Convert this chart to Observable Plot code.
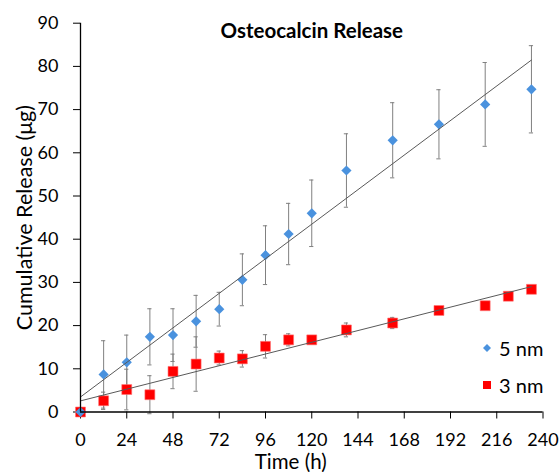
<!DOCTYPE html>
<html>
<head>
<meta charset="utf-8">
<script src="https://cdn.jsdelivr.net/npm/d3@7"></script>
<script src="https://cdn.jsdelivr.net/npm/@observablehq/plot@0.6"></script>
<style>
  html, body { margin: 0; padding: 0; background: #fff; }
  #wrap { position: relative; width: 560px; height: 472px; font-family: Lato, "Open Sans", sans-serif; }
  .leg { position: absolute; display: flex; align-items: center; font-size: 20px; color: #000; }
  .leg svg { margin-right: 6px; }
</style>
</head>
<body>
<div id="wrap"></div>
<script>
const title = "Osteocalcin Release";
const xLabel = "Time (h)";
const yLabel = "Cumulative Release (μg)";
const xTicks = [0, 24, 48, 72, 96, 120, 144, 168, 192, 216, 240];
const yTicks = [0, 10, 20, 30, 40, 50, 60, 70, 80, 90];

const seriesNames = ["5 nm", "3 nm"];
const seriesColors = ["#4a92de", "#ff0000"];

const hours5 = [0, 12, 24, 36, 48, 60, 72, 84, 96, 108, 120, 138, 162, 186, 210, 234];
const release5 = [0, 8.7, 11.5, 17.4, 17.8, 21.0, 23.8, 30.6, 36.3, 41.2, 46.0, 55.9, 62.9, 66.6, 71.2, 74.7];
const err5 = [0, 7.8, 6.3, 6.5, 6.1, 6.0, 3.9, 6.0, 6.8, 7.1, 7.7, 8.5, 8.7, 8.0, 9.7, 10.1];

const hours3 = [0, 12, 24, 36, 48, 60, 72, 84, 96, 108, 120, 138, 162, 186, 210, 222, 234];
const release3 = [0, 2.6, 5.2, 4.0, 9.4, 11.1, 12.5, 12.3, 15.2, 16.7, 16.7, 19.0, 20.6, 23.5, 24.6, 26.8, 28.4];
const err3 = [0, 2.0, 4.7, 4.4, 4.0, 6.3, 1.6, 1.9, 2.7, 1.4, 0.5, 1.6, 1.3, 0.4, 0.3, 0.3, 0.5];

const s5 = hours5.map((t, i) => ({t, v: release5[i], e: err5[i]}));
const s3 = hours3.map((t, i) => ({t, v: release3[i], e: err3[i]}));
const withErr = (arr) => arr.filter(d => d.e > 0);

const errColor = "#808080";
const capHalf = 1.1;

function errorMarks(data) {
  const d = withErr(data);
  return [
    Plot.ruleX(d, {x: "t", y1: r => r.v - r.e, y2: r => r.v + r.e, stroke: errColor, strokeWidth: 1}),
    Plot.ruleY(d, {y: r => r.v + r.e, x1: r => r.t - capHalf, x2: r => r.t + capHalf, stroke: errColor, strokeWidth: 1}),
    Plot.ruleY(d, {y: r => r.v - r.e, x1: r => r.t - capHalf, x2: r => r.t + capHalf, stroke: errColor, strokeWidth: 1})
  ];
}

const chart = Plot.plot({
  width: 560,
  height: 472,
  marginLeft: 80,
  marginRight: 17.5,
  marginTop: 22.7,
  marginBottom: 60.5,
  style: {fontFamily: "Lato, 'Open Sans', sans-serif", fontSize: "18px", color: "#000", background: "#fff"},
  x: {domain: [0, 240]},
  y: {domain: [0, 90]},
  marks: [
    Plot.axisX({ticks: xTicks, tickSize: 7, tickPadding: 14, fontSize: 18, label: null}),
    Plot.axisY({ticks: yTicks, tickSize: 7, tickPadding: 15, fontSize: 18, label: null}),
    ...errorMarks(s5),
    ...errorMarks(s3),
    Plot.dot(s3, {x: "t", y: "v", symbol: "square", r: 5.6, fill: seriesColors[1], stroke: "#ff7070", strokeWidth: 0.6}),
    Plot.dot(s5, {x: "t", y: "v", symbol: "diamond2", r: 4.6, fill: seriesColors[0]}),
    Plot.linearRegressionY(s5, {x: "t", y: "v", stroke: "#595959", strokeWidth: 1, ci: 0}),
    Plot.linearRegressionY(s3, {x: "t", y: "v", stroke: "#595959", strokeWidth: 1, ci: 0}),
    Plot.ruleX([0], {stroke: "#000", strokeWidth: 1.3}),
    Plot.ruleY([0], {stroke: "#000", strokeWidth: 1.3}),
    Plot.text([title], {frameAnchor: "top", dy: 8, lineAnchor: "middle", textAnchor: "middle", fontWeight: "bold", fontSize: 20.5}),
    Plot.text([yLabel], {frameAnchor: "left", rotate: -90, dx: -55, lineAnchor: "middle", textAnchor: "middle", fontSize: 21.5}),
    Plot.text([xLabel], {frameAnchor: "bottom", dy: 50.5, dx: -21, lineAnchor: "middle", textAnchor: "middle", fontSize: 20.5})
  ]
});

const wrap = document.getElementById("wrap");
wrap.appendChild(chart);

// legend
const legendPos = [{left: 481, top: 336}, {left: 481, top: 373}];
seriesNames.forEach((name, i) => {
  const div = document.createElement("div");
  div.className = "leg";
  div.style.left = legendPos[i].left + "px";
  div.style.top = legendPos[i].top + "px";
  const sw = i === 0
    ? `<svg width="12" height="24"><path d="M6,8 L10,12 L6,16 L2,12 Z" fill="${seriesColors[0]}"/></svg>`
    : `<svg width="12" height="24"><rect x="2" y="8" width="8" height="8" fill="${seriesColors[1]}"/></svg>`;
  div.innerHTML = sw + `<span>${name}</span>`;
  wrap.appendChild(div);
});
</script>
</body>
</html>
